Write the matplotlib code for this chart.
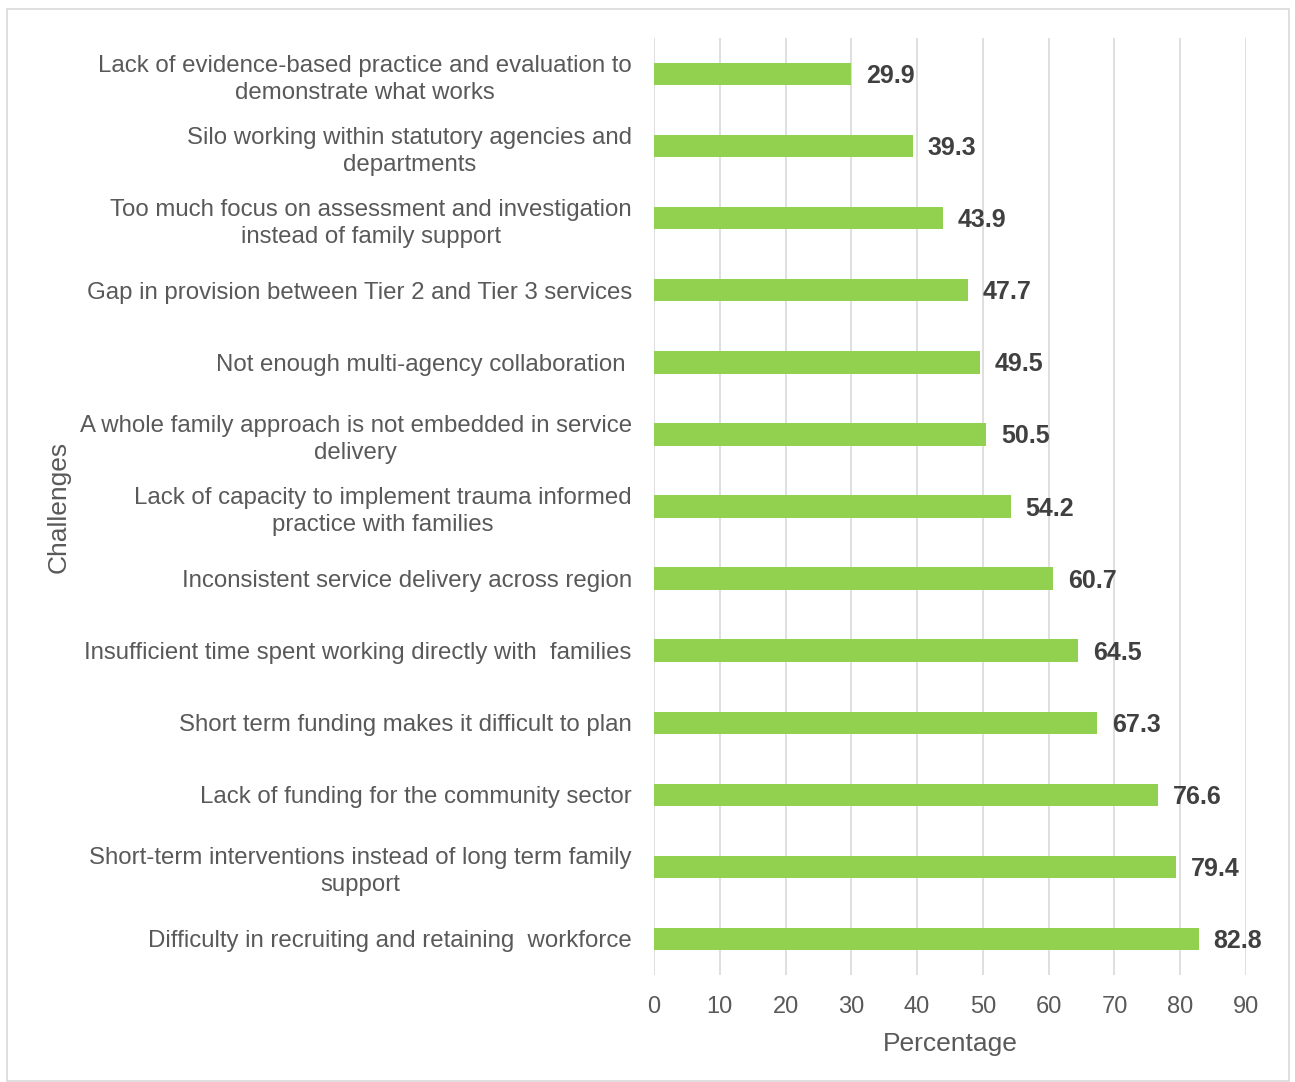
import matplotlib.pyplot as plt
from matplotlib.patches import Rectangle

plt.rcParams['font.family'] = ['Liberation Sans', 'DejaVu Sans']

# Datos (de arriba hacia abajo)
challenges = [
    "Lack of evidence-based practice and evaluation to\ndemonstrate what works",
    "Silo working within statutory agencies and\ndepartments",
    "Too much focus on assessment and investigation\ninstead of family support",
    "Gap in provision between Tier 2 and Tier 3 services",
    "Not enough multi-agency collaboration ",
    "A whole family approach is not embedded in service\ndelivery",
    "Lack of capacity to implement trauma informed\npractice with families",
    "Inconsistent service delivery across region",
    "Insufficient time spent working directly with  families",
    "Short term funding makes it difficult to plan",
    "Lack of funding for the community sector",
    "Short-term interventions instead of long term family\nsupport",
    "Difficulty in recruiting and retaining  workforce",
]
percentages = [29.9, 39.3, 43.9, 47.7, 49.5, 50.5, 54.2, 60.7, 64.5, 67.3, 76.6, 79.4, 82.8]
xticks = [0, 10, 20, 30, 40, 50, 60, 70, 80, 90]

fig = plt.figure(figsize=(12.95, 10.82), dpi=100)
ax = fig.add_axes([654 / 1295, 1 - 975 / 1082, (1246 - 654) / 1295, (975 - 38) / 1082])

# Borde del grafico
fig.patches.append(Rectangle((7 / 1295, 0.001), 1282 / 1295, 1 - 9 / 1082 - 0.001,
                             transform=fig.transFigure, fill=False,
                             edgecolor='#D9D9D9', linewidth=1.2))

y = list(range(len(challenges)))
ax.barh(y, percentages, height=0.31, color='#92D050', zorder=3)
for yi, v in zip(y, percentages):
    ax.annotate(f"{v}", (v, yi), xytext=(15, -2), textcoords='offset pixels',
                va='center', ha='left', fontsize=18, fontweight='bold', color='#404040')

ax.set_ylim(len(challenges) - 0.5, -0.5)
ax.set_xlim(0, 90)
ax.set_xticks(xticks)
ax.set_yticks(y)
ax.set_yticklabels(challenges, fontsize=17.3, color='#595959', ha='right',
                   multialignment='center', linespacing=1.3)
ax.tick_params(axis='x', labelsize=17, labelcolor='#595959', length=0, pad=15)
ax.tick_params(axis='y', length=0, pad=16)
ax.grid(axis='x', color='#D9D9D9', linewidth=1.2, zorder=0)
for s in ax.spines.values():
    s.set_visible(False)

ax.set_xlabel("Percentage", fontsize=19, color='#595959', labelpad=10)
ax.set_ylabel("Challenges", fontsize=19, color='#595959')
ax.yaxis.set_label_coords(-0.986, 0.5)

fig.savefig("out.png", dpi=100)
